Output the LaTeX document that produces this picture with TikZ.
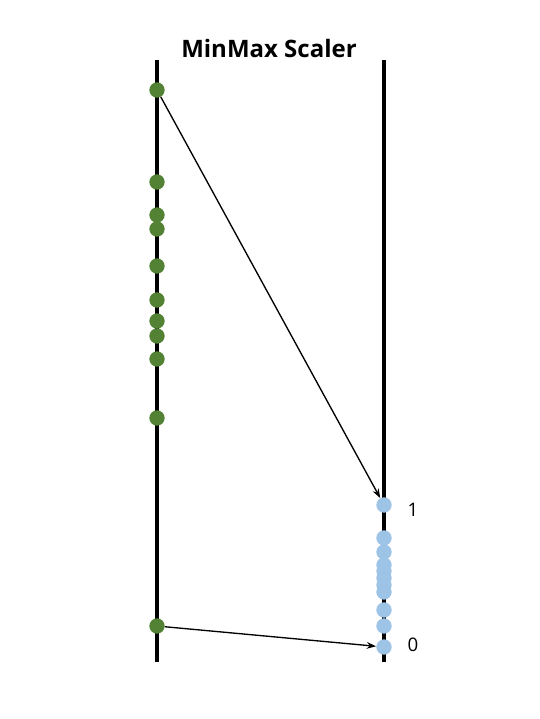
\documentclass[tikz,border=0pt]{standalone}
\usepackage{fontspec}
\setmainfont{Open Sans}
\usetikzlibrary{arrows.meta}
\definecolor{dotgreen}{HTML}{548235}
\definecolor{dotblue}{HTML}{9DC3E6}
\tikzset{
	axisline/.style={line width=3pt},
	gdot/.style={circle, fill=dotgreen, inner sep=0pt, minimum size=11.5pt},
	bdot/.style={circle, fill=dotblue, inner sep=0pt, minimum size=11.5pt},
	mapto/.style={-{Stealth[length=7pt,width=5pt]}, line width=1pt},
	lbl/.style={font=\fontsize{14}{16}\selectfont, anchor=west},
}
\begin{document}
\begin{tikzpicture}[x=0.75pt,y=-0.75pt]
		\useasboundingbox (0,0) rectangle (540,719);
		% the two axes
		\coordinate (ltop) at (157,60);
		\coordinate (lbot) at (157,662);
		\coordinate (rtop) at (384,60);
		\coordinate (rbot) at (384,662);
		\draw[axisline] (ltop) -- (lbot);
		\draw[axisline] (rtop) -- (rbot);
		\node[font=\bfseries\fontsize{18}{20}\selectfont] (title) at (269,48) {MinMax Scaler};
		
		% raw values
		\foreach \y [count=\i] in {90,182,215,229,266,300,321,336,359,418,626}
		\node[gdot] (g\i) at (157,\y) {};
		
		% scaled values
		\foreach \y [count=\i] in {505,538,552,565,571,578,585,592,610,626,647}
		\node[bdot] (b\i) at (384,\y) {};
		
		\node[lbl] (one) at (403,510) {1};
		\node[lbl] (zero) at (403,645) {0};
		
		\draw[mapto] (g1) -- (b1);
		\draw[mapto] (g11) -- (b11);
\end{tikzpicture}
\end{document}
